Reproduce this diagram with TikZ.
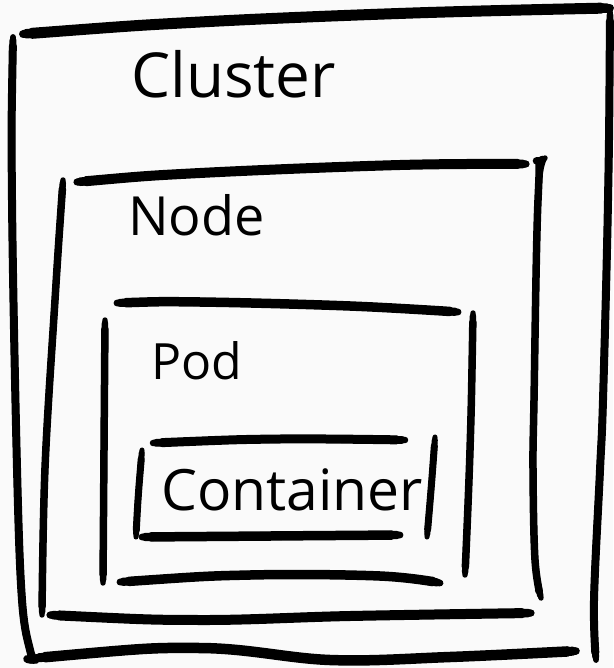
\documentclass[tikz,border=0pt]{standalone}
\usepackage{fontspec}
\setmainfont{Open Sans}
\begin{document}
\begin{tikzpicture}[x=1pt,y=-1pt,
  pen/.style={line width=#1,line cap=round,line join=round},
  lbl/.style={inner sep=0pt,anchor=base west,text=black}]
% a brush stroke: slightly thinner at its two ends
\newcommand\brush[2]{%
  \draw[pen=0.72*#1] plot[smooth,tension=0.6] coordinates {#2};
  \draw[pen=0.86*#1,shorten <=3pt,shorten >=3pt] plot[smooth,tension=0.6] coordinates {#2};
  \draw[pen=#1,shorten <=9pt,shorten >=9pt] plot[smooth,tension=0.6] coordinates {#2};}
\useasboundingbox (0,0) rectangle (613,668);
\fill[white!98!black] (0,0) rectangle (613,668);

% Cluster box
\brush{11pt}{(23,34) (200,22) (413,13) (610,8)}
\brush{8pt}{(13,37) (12,200) (17,468) (22,600) (30,650) (36,661)}
\brush{10.5pt}{(36,658) (200,648) (330,660) (450,657) (576,651)}
\brush{8pt}{(610,12) (608,200) (603,400) (600,470) (594,600) (596,660)}
\node[lbl,font=\fontsize{62}{70}\selectfont] (cluster) at (131,98) {Cluster};

% Node box
\brush{10pt}{(77,182) (200,173) (400,165) (526,164)}
\brush{7.5pt}{(63,180) (55,300) (45,468) (42,615)}
\brush{7.5pt}{(545,158) (538,200) (534,400) (533,470) (535,560) (541,598)}
\brush{10pt}{(50,615) (200,620) (350,616) (531,613)}
\node[lbl,font=\fontsize{54}{62}\selectfont] (node) at (128,235) {Node};

% Pod box
\brush{9.5pt}{(117,303) (200,302) (350,306) (458,312)}
\brush{7.5pt}{(105,320) (104,450) (103,583)}
\brush{7.5pt}{(473,313) (470,450) (465,575)}
\brush{9.5pt}{(120,582) (250,575) (380,576) (440,583)}
\node[lbl,font=\fontsize{50}{58}\selectfont] (pod) at (151,379) {Pod};

% Container box
\brush{9pt}{(153,443) (280,439) (405,440)}
\brush{7pt}{(142,450) (138,500) (136,537)}
\brush{9.5pt}{(142,537) (270,536) (400,535)}
\brush{7pt}{(435,437) (431,490) (427,537)}
\node[lbl,font=\fontsize{57}{65}\selectfont] (container) at (161,510) {Container};
\end{tikzpicture}
\end{document}
